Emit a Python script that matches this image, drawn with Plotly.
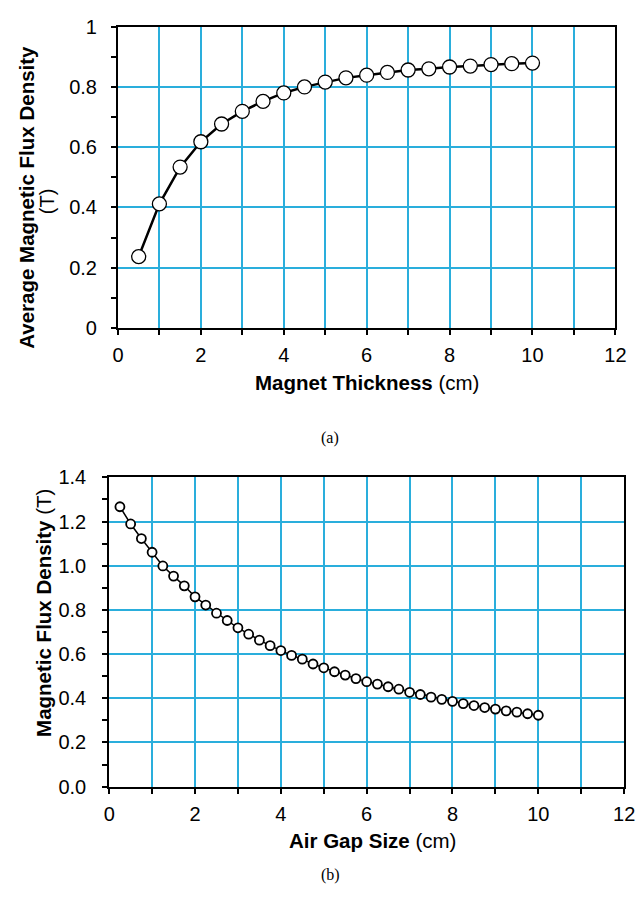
import plotly.graph_objects as go

# (a) average flux density vs magnet thickness
thick_cm = [0.5, 1.0, 1.5, 2.0, 2.5, 3.0, 3.5, 4.0, 4.5, 5.0,
            5.5, 6.0, 6.5, 7.0, 7.5, 8.0, 8.5, 9.0, 9.5, 10.0]
thick_B = [0.237, 0.412, 0.534, 0.618, 0.677, 0.719, 0.752, 0.780, 0.800, 0.816,
           0.830, 0.839, 0.848, 0.856, 0.860, 0.866, 0.869, 0.874, 0.877, 0.879]

# (b) flux density vs air gap size
gap_cm = [0.25, 0.5, 0.75, 1.0, 1.25, 1.5, 1.75, 2.0, 2.25, 2.5,
          2.75, 3.0, 3.25, 3.5, 3.75, 4.0, 4.25, 4.5, 4.75, 5.0,
          5.25, 5.5, 5.75, 6.0, 6.25, 6.5, 6.75, 7.0, 7.25, 7.5,
          7.75, 8.0, 8.25, 8.5, 8.75, 9.0, 9.25, 9.5, 9.75, 10.0]
gap_B = [1.267, 1.189, 1.123, 1.061, 0.999, 0.953, 0.909, 0.859, 0.822, 0.785,
         0.752, 0.719, 0.690, 0.663, 0.638, 0.616, 0.594, 0.577, 0.555, 0.538,
         0.520, 0.505, 0.489, 0.475, 0.464, 0.452, 0.441, 0.427, 0.417, 0.405,
         0.395, 0.386, 0.376, 0.367, 0.358, 0.351, 0.343, 0.337, 0.330, 0.323]

W, H = 641, 903
GRID = "#2aaedc"
GW = 1.6
FONT = "Liberation Sans, Arial, sans-serif"

def px(x):
    return x / W

def py(y):
    return 1 - y / H

fig = go.Figure()
fig.add_trace(go.Scatter(
    x=thick_cm, y=thick_B, xaxis="x", yaxis="y", mode="lines+markers",
    line=dict(color="black", width=2.5),
    marker=dict(size=14, color="white", line=dict(color="black", width=1.3)),
))
fig.add_trace(go.Scatter(
    x=gap_cm, y=gap_B, xaxis="x2", yaxis="y2", mode="lines+markers",
    line=dict(color="black", width=1.5),
    marker=dict(size=9, color="white", line=dict(color="black", width=1.8)),
))

def xax(domain, anchor, standoff):
    return dict(
        domain=domain, anchor=anchor, range=[0, 12], tick0=0, dtick=2,
        showgrid=True, gridcolor=GRID, gridwidth=GW, zeroline=False,
        minor=dict(dtick=1, showgrid=True, gridcolor=GRID, gridwidth=GW,
                   ticks="outside", ticklen=5, tickwidth=1.5, tickcolor="black"),
        ticks="outside", ticklen=5, tickwidth=1.5, tickcolor="black",
        showline=True, linecolor="black", linewidth=2, mirror=True,
        tickfont=dict(family=FONT, size=20, color="black"),
        ticklabelstandoff=standoff,
    )

def yax(domain, anchor, rng, fmt, standoff):
    return dict(
        domain=domain, anchor=anchor, range=rng, tick0=0, dtick=0.2,
        showgrid=True, gridcolor=GRID, gridwidth=GW, zeroline=False,
        minor=dict(dtick=0.1, showgrid=False, ticks="outside", ticklen=5,
                   tickwidth=1.5, tickcolor="black"),
        ticks="outside", ticklen=5, tickwidth=1.5, tickcolor="black",
        showline=True, linecolor="black", linewidth=2, mirror=True,
        tickfont=dict(family=FONT, size=20, color="black"),
        tickformat=fmt, ticklabelstandoff=standoff,
    )

fig.update_layout(
    width=W, height=H, margin=dict(l=0, r=0, t=0, b=0),
    paper_bgcolor="white", plot_bgcolor="white", showlegend=False,
    xaxis=xax([px(115), px(626)], "y", 3),
    yaxis=yax([py(325), py(16)], "x", [0, 1], "", 10),
    xaxis2=xax([px(106), px(635)], "y2", 3),
    yaxis2=yax([py(795), py(478)], "x2", [0, 1.4], ".1f", 12),
)

ann = [
    dict(text="<b>Magnet Thickness</b> (cm)", x=px(371), y=py(381), size=20.5, angle=0, fam=FONT),
    dict(text="<b>Average Magnetic Flux Density</b>", x=px(21), y=py(191), size=20.5, angle=-90, fam=FONT),
    dict(text="(T)", x=px(42), y=py(195), size=20, angle=-90, fam=FONT),
    dict(text="(a)", x=px(333), y=py(438), size=16, angle=0, fam="Liberation Serif, Times New Roman, serif"),
    dict(text="<b>Magnetic Flux Density</b> (T)", x=px(39), y=py(617), size=20.5, angle=-90, fam=FONT),
    dict(text="<b>Air Gap Size</b> (cm)", x=px(376), y=py(850), size=20.5, angle=0, fam=FONT),
    dict(text="(b)", x=px(333), y=py(886), size=16, angle=0, fam="Liberation Serif, Times New Roman, serif"),
]
for a in ann:
    fig.add_annotation(text=a["text"], x=a["x"], y=a["y"], xref="paper", yref="paper",
                       xanchor="center", yanchor="middle", showarrow=False,
                       textangle=a["angle"], font=dict(family=a["fam"], size=a["size"], color="black"))

fig.write_html("out.html")
